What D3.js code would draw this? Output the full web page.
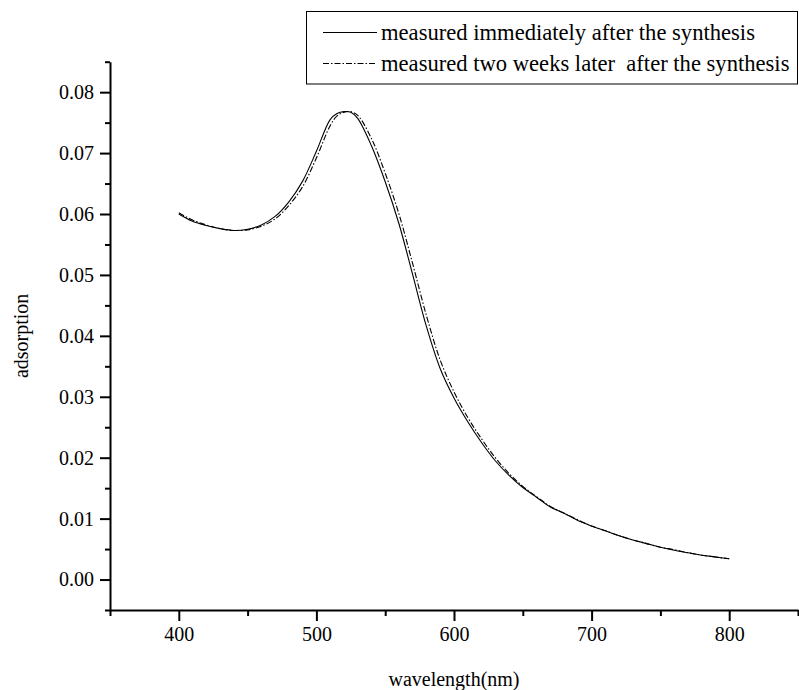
<!DOCTYPE html>
<html>
<head>
<meta charset="utf-8">
<script src="https://cdn.jsdelivr.net/npm/d3@7"></script>
<style>
  body { margin: 0; background: #fff; }
  svg { display: block; font-family: "Liberation Serif", "DejaVu Serif", serif; }
</style>
</head>
<body>
<div id="chart"></div>
<script>
// wavelength (nm) sampled along the curves
const wavelengths = [400, 410, 420, 430, 440, 450, 460, 470, 480, 490, 500, 510, 515, 520, 525, 530,
  540, 550, 560, 570, 580, 590, 600, 610, 620, 630, 640, 650, 660, 670, 680, 690, 700,
  710, 720, 730, 740, 750, 760, 770, 780, 790, 800];

// measured immediately after the synthesis
const freshValues = [0.0600, 0.0588, 0.0581, 0.0576, 0.0573, 0.0575, 0.0582, 0.0596, 0.0620, 0.0654,
  0.0703, 0.0755, 0.0765, 0.0768, 0.0767, 0.0757, 0.0712, 0.0653, 0.0584, 0.0500, 0.0415,
  0.0346, 0.0298, 0.0259, 0.0225, 0.0195, 0.0171, 0.0151, 0.0135, 0.0119, 0.0109, 0.0097,
  0.0088, 0.0080, 0.0072, 0.0065, 0.0059, 0.0053, 0.0048, 0.0044, 0.0040, 0.0037, 0.0034];

// measured two weeks later
const laterValues = [0.0602, 0.0590, 0.0582, 0.0576, 0.0573, 0.0574, 0.0580, 0.0592, 0.0614, 0.0645,
  0.0692, 0.0745, 0.0761, 0.0767, 0.0768, 0.0762, 0.0724, 0.0667, 0.0600, 0.0518, 0.0433,
  0.0360, 0.0308, 0.0266, 0.0231, 0.0200, 0.0174, 0.0153, 0.0136, 0.0120, 0.0109, 0.0098,
  0.0088, 0.0080, 0.0072, 0.0065, 0.0059, 0.0053, 0.0049, 0.0044, 0.0040, 0.0037, 0.0034];

const xTicks = [400, 500, 600, 700, 800];
const xMinorTicks = [350, 450, 550, 650, 750, 850];
const yTicks = [0.00, 0.01, 0.02, 0.03, 0.04, 0.05, 0.06, 0.07, 0.08];
const yMinorTicks = [-0.005, 0.005, 0.015, 0.025, 0.035, 0.045, 0.055, 0.065, 0.075, 0.085];

const seriesNames = ['measured immediately after the synthesis',
  'measured two weeks later  after the synthesis'];

const width = 799;
const height = 690;
const plot = { left: 110, right: 798, top: 61.7, bottom: 610 };

const svg = d3.select('#chart').append('svg')
  .attr('width', width)
  .attr('height', height);

const x = d3.scaleLinear().domain([350, 850]).range([plot.left, plot.right]);
const y = d3.scaleLinear().domain([-0.005, 0.085]).range([plot.bottom, plot.top]);

// axes
svg.append('g')
  .attr('transform', `translate(0,${plot.bottom})`)
  .call(d3.axisBottom(x).tickValues(xTicks).tickSize(11).tickSizeOuter(0).tickPadding(6)
    .tickFormat(d3.format('d')));
svg.append('g')
  .attr('transform', `translate(0,${plot.bottom})`)
  .call(d3.axisBottom(x).tickValues(xMinorTicks).tickSize(6).tickSizeOuter(0).tickFormat(''))
  .select('.domain').remove();

svg.append('g')
  .attr('transform', `translate(${plot.left},0)`)
  .call(d3.axisLeft(y).tickValues(yTicks).tickSize(10).tickSizeOuter(0).tickPadding(6)
    .tickFormat(d3.format('.2f')));
svg.append('g')
  .attr('transform', `translate(${plot.left},0)`)
  .call(d3.axisLeft(y).tickValues(yMinorTicks).tickSize(5).tickSizeOuter(0).tickFormat(''))
  .select('.domain').remove();

svg.selectAll('.domain, .tick line').attr('stroke', '#000').attr('stroke-width', 2);
svg.selectAll('.tick text')
  .attr('fill', '#000')
  .style('font-size', '20px')
  .style('font-family', '"Liberation Serif", serif');

// axis titles
svg.append('text')
  .attr('x', (plot.left + plot.right) / 2)
  .attr('y', 686)
  .attr('text-anchor', 'middle')
  .style('font-size', '20px')
  .text('wavelength(nm)');

svg.append('text')
  .attr('transform', `translate(28,${(plot.top + plot.bottom) / 2}) rotate(-90)`)
  .attr('text-anchor', 'middle')
  .style('font-size', '20px')
  .text('adsorption');

// curves
const line = d3.line()
  .x(d => x(d[0]))
  .y(d => y(d[1]))
  .curve(d3.curveCatmullRom);

const dashes = [null, '6,2,1.5,2'];

[freshValues, laterValues].forEach((vals, i) => {
  svg.append('path')
    .datum(wavelengths.map((w, j) => [w, vals[j]]))
    .attr('fill', 'none')
    .attr('stroke', '#000')
    .attr('stroke-width', 1.1)
    .attr('stroke-dasharray', dashes[i])
    .attr('d', line);
});

// legend
const legend = svg.append('g');
legend.append('rect')
  .attr('x', 306.5).attr('y', 11.5)
  .attr('width', 491).attr('height', 72.5)
  .attr('fill', '#fff')
  .attr('stroke', '#000')
  .attr('stroke-width', 1);

seriesNames.forEach((name, i) => {
  const cy = 32.5 + i * 31;
  legend.append('line')
    .attr('x1', 323).attr('x2', 377)
    .attr('y1', cy).attr('y2', cy)
    .attr('stroke', '#000')
    .attr('stroke-width', 1.2)
    .attr('stroke-dasharray', dashes[i]);
  legend.append('text')
    .attr('x', 381)
    .attr('y', cy + 7.5)
    .style('font-size', '22.6px')
    .style('white-space', 'pre')
    .text(name);
});
</script>
</body>
</html>
